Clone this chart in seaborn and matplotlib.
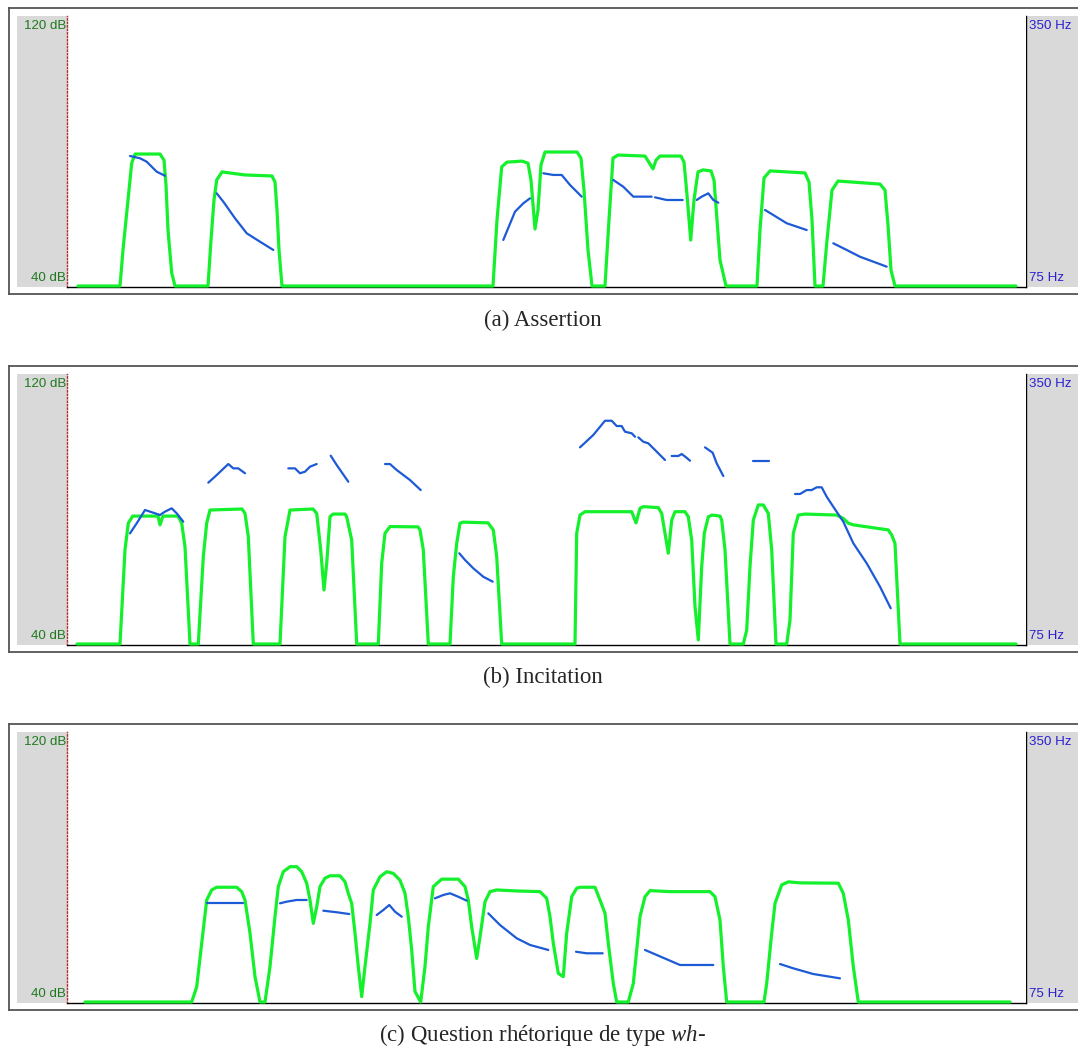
import numpy as np
import pandas as pd
import matplotlib
matplotlib.use("Agg")
import matplotlib.pyplot as plt
import seaborn as sns

# ---------------- data (time in arbitrary units, intensity in dB, pitch in Hz) -------------
a_int_t = [11, 53, 56, 58, 64.7, 68, 93, 97, 99, 101, 104.7, 108, 141, 144, 147, 149.7, 155, 178, 205, 208, 210,
           212, 215, 426, 430, 434.7, 440, 455, 461, 464, 468, 471, 474, 478, 510, 514, 517, 521, 525, 538, 542,
           546, 551, 578, 586, 589, 593, 614, 617, 620, 623.7, 627, 631, 636, 644, 647, 650, 653, 659, 690, 693,
           697, 703, 738, 742, 745, 748, 756, 760, 765, 771, 813, 818, 821, 824, 828, 949]
a_int_db = [40, 40, 50.7, 56.6, 76.4, 79.1, 79.1, 77.3, 69.9, 56.6, 43.9, 40, 40, 53.6, 65.5, 71.4, 73.8, 72.9, 72.6,
            70.8, 62.5, 50.7, 40, 40, 59.6, 75.3, 76.7, 77.0, 76.4, 71.4, 56.9, 62.5, 75.9, 79.7, 79.7, 77.9, 68.4,
            50.7, 40, 40, 59.6, 77.9, 78.8, 78.5, 74.7, 77.3, 78.5, 78.5, 76.7, 67.0, 53.6, 65.5, 73.8, 74.4, 74.1,
            71.4, 59.6, 47.7, 40, 40, 56.6, 72.0, 74.1, 73.5, 70.8, 59.6, 40, 40, 53.6, 68.4, 71.1, 70.2, 68.4, 58.1,
            44.7, 40, 40]
a_f0_seg = [1]*5 + [2]*6 + [3]*4 + [4]*5 + [5]*4 + [6]*3 + [7]*5 + [8]*4 + [9]*4
a_f0_t = [63, 73, 79.7, 89.7, 98,
          149.7, 156.3, 168, 179.7, 193, 206.3,
          436.3, 448, 456.3, 463,
          476.3, 486.3, 494.7, 503, 514.7,
          546.3, 556.3, 566.3, 584.7,
          588, 599.7, 615.7,
          629.7, 634.7, 641.3, 646.3, 651.3,
          698, 706.3, 719.7, 739.7,
          766.3, 779.7, 793, 819.7]
a_f0_hz = [207.4, 205.1, 201.6, 191.4, 187.3,
           169.4, 160.9, 144.0, 128.7, 120.1, 111.7,
           121.9, 150.7, 159.2, 164.3,
           189.8, 188.1, 188.1, 177.9, 166.0,
           183.0, 176.1, 166.0, 166.0,
           165.3, 162.6, 162.6,
           162.6, 166.0, 169.4, 162.6, 159.8,
           152.4, 147.3, 138.9, 132.0,
           118.5, 111.7, 104.8, 94.7]

b_int_t = [10, 53, 58, 61.3, 65.7, 91, 93, 96, 111, 114.7, 118, 123, 131.3, 136.3, 139.7, 143, 175, 178, 181.3,
           186.3, 213, 218, 223, 246, 249.7, 253.7, 257, 259.7, 263, 266, 278, 279.7, 284.7, 289.7, 311.3, 314.7,
           318, 323, 351, 353, 356.3, 361.3, 383, 386.3, 389.7, 393, 396, 421, 426.3, 429.7, 434.7, 508, 509.7,
           513, 518, 564.7, 569, 573, 576.3, 591.3, 594.7, 598, 601.3, 604.7, 608, 618, 621.3, 624.7, 628, 631.3,
           634.7, 637.3, 641.3, 645, 653, 654.7, 658, 663, 676.3, 679.7, 683, 686.3, 691.3, 696.3, 701.3, 704.7,
           709, 719.7, 723, 726.3, 731.3, 738, 769.7, 776.3, 781.3, 786.3, 821.3, 824.7, 828, 833, 949]
b_int_db = [40, 40, 67.9, 75.8, 77.9, 77.9, 75.3, 77.9, 77.9, 75.8, 68.8, 40, 40, 65.9, 75.8, 79.7, 80.0, 78.7, 71.8,
            40, 40, 71.8, 79.7, 80.0, 78.7, 67.9, 56.0, 63.9, 77.7, 78.5, 78.5, 77.7, 70.8, 40, 40, 63.9, 72.8,
            74.8, 74.7, 73.8, 67.9, 40, 40, 59.9, 69.8, 75.8, 76.1, 75.9, 73.8, 65.9, 40, 40, 72.8, 78.2, 79.2,
            79.2, 75.9, 80.2, 80.7, 80.4, 78.7, 72.8, 66.9, 76.7, 79.2, 79.2, 77.7, 70.8, 51.1, 41.2, 62.9, 72.8,
            77.7, 78.2, 77.9, 76.7, 67.9, 40, 40, 44.1, 62.9, 76.7, 81.2, 81.2, 78.7, 67.9, 40, 40, 47.1, 72.8,
            78.2, 78.5, 78.2, 77.2, 75.8, 75.3, 73.8, 72.3, 69.8, 40, 40]
b_f0_seg = [1]*9 + [2]*6 + [3]*6 + [4]*3 + [5]*5 + [6]*5 + [7]*9 + [8]*5 + [9]*5 + [10]*4 + [11]*2 + [12]*13
b_f0_t = [63, 69.7, 78, 86.3, 93, 98, 104.7, 109.7, 116.3,
          141.3, 149.7, 161.3, 166.3, 171.3, 178,
          221.3, 228, 233, 238, 243, 249.7,
          263.7, 269.7, 281.3,
          318, 323, 329.7, 343, 353.7,
          392.3, 398, 406.3, 416.3, 425.7,
          513, 526.3, 538, 544.7, 549.7, 554.7, 558, 564.7, 568,
          571.3, 576.3, 581.3, 589.7, 598,
          604.7, 611.3, 614.7, 619, 623,
          638, 645.7, 649.7, 656.3,
          686.3, 702.3,
          728, 733, 739.7, 744.7, 749.7, 754.7, 759.7, 766.3, 776.3, 786.3, 799.7, 813, 823.7]
b_f0_hz = [187.7, 197.9, 211.5, 208.7, 206.4, 209.8, 213.2, 208.1, 199.6,
           239.3, 247.1, 258.3, 253.9, 253.9, 248.9,
           253.9, 253.9, 248.9, 250.5, 255.6, 258.3,
           266.8, 257.3, 240.3,
           258.3, 258.3, 252.2, 242.0, 231.8,
           167.4, 160.6, 152.1, 143.5, 138.5,
           275.3, 287.9, 302.4, 302.4, 297.0, 297.0, 291.2, 289.6, 286.1,
           285.5, 281.0, 279.4, 270.9, 262.4,
           266.5, 266.5, 268.5, 265.2, 261.7,
           275.3, 269.8, 259.0, 246.1,
           261.7, 261.7,
           227.8, 227.8, 231.8, 231.8, 234.6, 234.6, 225.0, 214.8, 199.6, 177.6, 157.2, 133.4, 111.4]

c_int_t = [18, 124.7, 129.7, 134.7, 139.7, 144.7, 149.7, 169.7, 174.7, 178, 183, 188, 193, 198, 203, 208, 211.3,
           216.3, 223, 229.7, 234.7, 239.7, 243, 246.3, 249.7, 253, 258, 263, 273, 278, 281.3, 284.7, 288, 291.3,
           294.7, 298, 303, 306.3, 313, 319.7, 326.3, 333, 338, 341.3, 344.7, 348, 353.7, 358, 361.3, 366.3,
           374.7, 391.3, 398, 401.3, 404.7, 409.7, 413, 418, 423, 429.7, 449.7, 473, 479.7, 483, 486.3, 491.3,
           496.3, 499.7, 504.7, 509.7, 513, 528, 533, 538, 541.3, 546.3, 549.7, 561.3, 566.3, 569.7, 573, 578,
           583, 603, 643, 648, 653, 656.3, 659.7, 697, 699.7, 704.7, 708, 714.7, 721.3, 733, 771.3, 776.3, 781.3,
           786.3, 791.3, 943]
c_int_db = [40, 40, 44.5, 57.4, 70.2, 73.2, 74.0, 74.0, 72.7, 70.2, 60.4, 47.5, 40, 40, 50.5, 65.3, 74.2, 78.6,
            80.1, 80.1, 78.6, 75.2, 70.2, 63.3, 68.2, 74.2, 76.7, 77.4, 77.4, 75.6, 72.2, 69.2, 60.4, 50.5, 41.6,
            50.5, 63.3, 73.2, 77.1, 78.6, 78.1, 76.1, 72.2, 65.3, 55.4, 43.1, 40, 50.5, 62.3, 74.2, 76.4, 76.4,
            74.2, 70.2, 62.3, 52.9, 59.3, 69.7, 72.7, 73.2, 72.9, 72.7, 70.7, 65.3, 57.4, 48.5, 47.5, 60.4, 71.2,
            73.7, 74.0, 74.0, 70.2, 66.3, 57.4, 45.5, 40, 40, 45.5, 55.4, 65.3, 71.2, 73.0, 72.7, 72.7, 71.2, 64.3,
            50.5, 40, 40, 45.5, 60.4, 69.2, 74.7, 75.6, 75.3, 75.2, 72.2, 64.3, 50.5, 40, 40]
c_f0_seg = [1]*2 + [2]*4 + [3]*3 + [4]*5 + [5]*5 + [6]*5 + [7]*3 + [8]*4 + [9]*4
c_f0_t = [139.7, 176.3,
          213, 219.7, 229.7, 239.7,
          256.3, 269.7, 282.3,
          309.7, 316.3, 322.3, 328, 334.7,
          368, 376.3, 383, 391.3, 399.7,
          421.3, 433, 449.7, 463, 481.3,
          509, 519.7, 535.7,
          578, 589.7, 613, 646.3,
          713, 726.3, 746.3, 773]
c_f0_hz = [175.5, 175.5,
           175.5, 177.2, 178.9, 178.9,
           168.0, 166.4, 164.6,
           163.6, 168.7, 173.8, 167.0, 161.9,
           180.6, 184.0, 185.7, 182.2, 178.2,
           165.3, 153.4, 139.9, 133.1, 128.0,
           126.2, 124.6, 124.6,
           128.0, 122.9, 112.7, 112.7,
           113.7, 109.3, 103.5, 99.1]

captions = ["(a) Assertion", "(b) Incitation", "(c) Question rhétorique de type $\\mathit{wh}$-"]
db_labels = ["120 dB", "40 dB"]
hz_labels = ["350 Hz", "75 Hz"]
DB_RANGE = (40, 120)
HZ_RANGE = (75, 350)

# ---------------- style ----------------
sns.set_style("white")
plt.rcParams['font.family'] = ['Liberation Sans', 'DejaVu Sans']
plt.rcParams['mathtext.fontset'] = 'custom'
plt.rcParams['mathtext.rm'] = 'Liberation Serif'
plt.rcParams['mathtext.it'] = 'Liberation Serif:italic'

W, H = 1078, 1052
fig = plt.figure(figsize=(W / 100, H / 100), dpi=100)

def box(x0, y0, x1, y1):
    return [x0 / W, 1 - y1 / H, (x1 - x0) / W, (y1 - y0) / H]

GREEN = '#14f02c'
BLUE = '#1c5ad6'
GREY = '#d9d9d9'
DB_GREEN = '#1f7a1f'
HZ_BLUE = '#2a1fd0'

panels = [
    (a_int_t, a_int_db, a_f0_seg, a_f0_t, a_f0_hz),
    (b_int_t, b_int_db, b_f0_seg, b_f0_t, b_f0_hz),
    (c_int_t, c_int_db, c_f0_seg, c_f0_t, c_f0_hz),
]
offsets = [0, 358, 716]

for i, ((it, idb, fseg, ft, fhz), off) in enumerate(zip(panels, offsets)):
    # outer frame
    fr = fig.add_axes(box(9, 8 + off, 1082, 294 + off))
    fr.set_xticks([]); fr.set_yticks([])
    fr.patch.set_alpha(0)
    for s in fr.spines.values():
        s.set_color('#555555'); s.set_linewidth(1.3)

    # left grey strip
    lf = fig.add_axes(box(17, 16 + off, 67, 287 + off))
    lf.set_facecolor(GREY)
    lf.set_xticks([]); lf.set_yticks([])
    for s in lf.spines.values():
        s.set_visible(False)
    lf.text(0.98, 0.963, db_labels[0], transform=lf.transAxes, ha='right', va='center',
            fontsize=9.6, color=DB_GREEN)
    lf.text(0.98, 0.035, db_labels[1], transform=lf.transAxes, ha='right', va='center',
            fontsize=9.6, color=DB_GREEN)

    # right grey strip
    rt = fig.add_axes(box(1026, 16 + off, 1082, 287 + off))
    rt.set_facecolor(GREY)
    rt.set_xticks([]); rt.set_yticks([])
    for k, s in rt.spines.items():
        s.set_visible(k == 'left')
    rt.spines['left'].set_color('black'); rt.spines['left'].set_linewidth(1.0)
    rt.text(0.06, 0.963, hz_labels[0], transform=rt.transAxes, ha='left', va='center',
            fontsize=9.6, color=HZ_BLUE)
    rt.text(0.06, 0.035, hz_labels[1], transform=rt.transAxes, ha='left', va='center',
            fontsize=9.6, color=HZ_BLUE)

    # main axes
    ax = fig.add_axes(box(67, 16 + off, 1026, 287 + off))
    ax.set_facecolor('white')
    df_int = pd.DataFrame({'t': it, 'db': idb})
    sns.lineplot(data=df_int, x='t', y='db', sort=False, estimator=None, color=GREEN,
                 linewidth=2.3, ax=ax, zorder=3)
    ax.set_xlim(0, 959)
    ax.set_ylim(DB_RANGE[0] - 80 / 270 * 1.0, DB_RANGE[1])
    ax.set_xticks([]); ax.set_yticks([])
    ax.set_xlabel(''); ax.set_ylabel('')
    for k, s in ax.spines.items():
        s.set_visible(k in ('bottom', 'left'))
    ax.spines['bottom'].set_color('black'); ax.spines['bottom'].set_linewidth(1.0)
    ax.spines['left'].set_color('#b03030'); ax.spines['left'].set_linewidth(1.0)
    ax.spines['left'].set_linestyle((0, (1, 1.5)))
    for line in ax.get_lines():
        line.set_clip_on(False)
        line.set_solid_joinstyle('round')
        line.set_solid_capstyle('round')

    ax2 = ax.twinx()
    df_f0 = pd.DataFrame({'t': ft, 'hz': fhz, 'seg': fseg})
    sns.lineplot(data=df_f0, x='t', y='hz', units='seg', estimator=None, sort=False,
                 color=BLUE, linewidth=1.6, ax=ax2, zorder=4)
    ax2.set_ylim(HZ_RANGE[0] - 275 / 270 * 1.0, HZ_RANGE[1])
    ax2.set_xlim(0, 959)
    ax2.set_yticks([]); ax2.set_ylabel('')
    for s in ax2.spines.values():
        s.set_visible(False)
    for line in ax2.get_lines():
        line.set_solid_joinstyle('round')

    # caption
    cap_y = [320, 677, 1035][i]
    fig.text(543 / W, 1 - cap_y / H, captions[i], ha='center', va='center',
             fontsize=16.5, family=['Liberation Serif', 'DejaVu Serif'])

fig.savefig('out.png', dpi=100)
